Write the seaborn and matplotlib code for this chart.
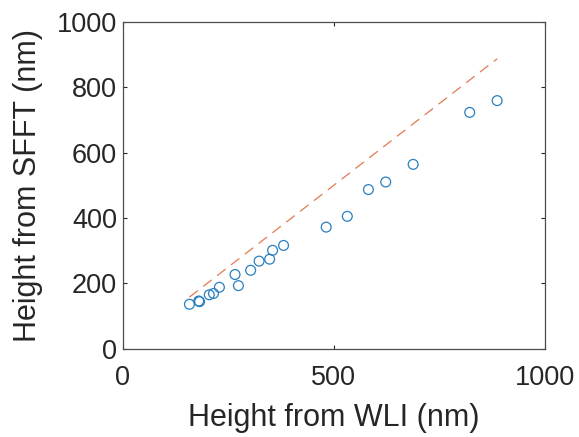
import matplotlib
matplotlib.use("Agg")
import matplotlib.pyplot as plt
import seaborn as sns
import pandas as pd

wli = [158, 180, 182, 205, 215, 229, 266, 274, 303, 323, 348, 355, 381,
       482, 532, 582, 623, 688, 822, 887]
sfft = [136, 146, 144, 165, 169, 188, 227, 193, 240, 268, 274, 301, 316,
        372, 405, 487, 510, 564, 723, 759]
line_x = [158, 887]
line_y = [158, 887]
x_ticks = [0, 500, 1000]
y_ticks = [0, 200, 400, 600, 800, 1000]

sns.set_style("ticks")
plt.rcParams['font.family'] = ['Liberation Sans', 'DejaVu Sans']
plt.rcParams['xtick.direction'] = 'in'
plt.rcParams['ytick.direction'] = 'in'

fig = plt.figure(figsize=(5.79, 4.37), dpi=100)
ax = fig.add_axes([0.212, 0.202, 0.729, 0.748])

df = pd.DataFrame({"wli": wli, "sfft": sfft})
dl = pd.DataFrame({"x": line_x, "y": line_y})

sns.lineplot(data=dl, x="x", y="y", ax=ax, color="#E07A50",
             linestyle=(0, (8.5, 5.5)), linewidth=0.9, zorder=1)
sns.scatterplot(data=df, x="wli", y="sfft", ax=ax, marker="o",
                facecolor="none", edgecolor="#2A7FBF", linewidth=0.9,
                s=50, zorder=2)

ax.set_xlim(0, 1000)
ax.set_ylim(0, 1000)
ax.set_xticks(x_ticks)
ax.set_yticks(y_ticks)
ax.tick_params(axis='both', labelsize=19.5, colors='#262626', length=3,
               width=0.8, top=True, right=True)
ax.tick_params(axis='x', pad=12)
ax.tick_params(axis='y', pad=4)
for sp in ax.spines.values():
    sp.set_visible(True)
    sp.set_color('#4d4d4d')
    sp.set_linewidth(0.9)
ax.set_xlabel("Height from WLI (nm)", fontsize=22, color='#262626', labelpad=8)
ax.set_ylabel("Height from SFFT (nm)", fontsize=22, color='#262626', labelpad=10)

fig.savefig("out.png", dpi=100)
